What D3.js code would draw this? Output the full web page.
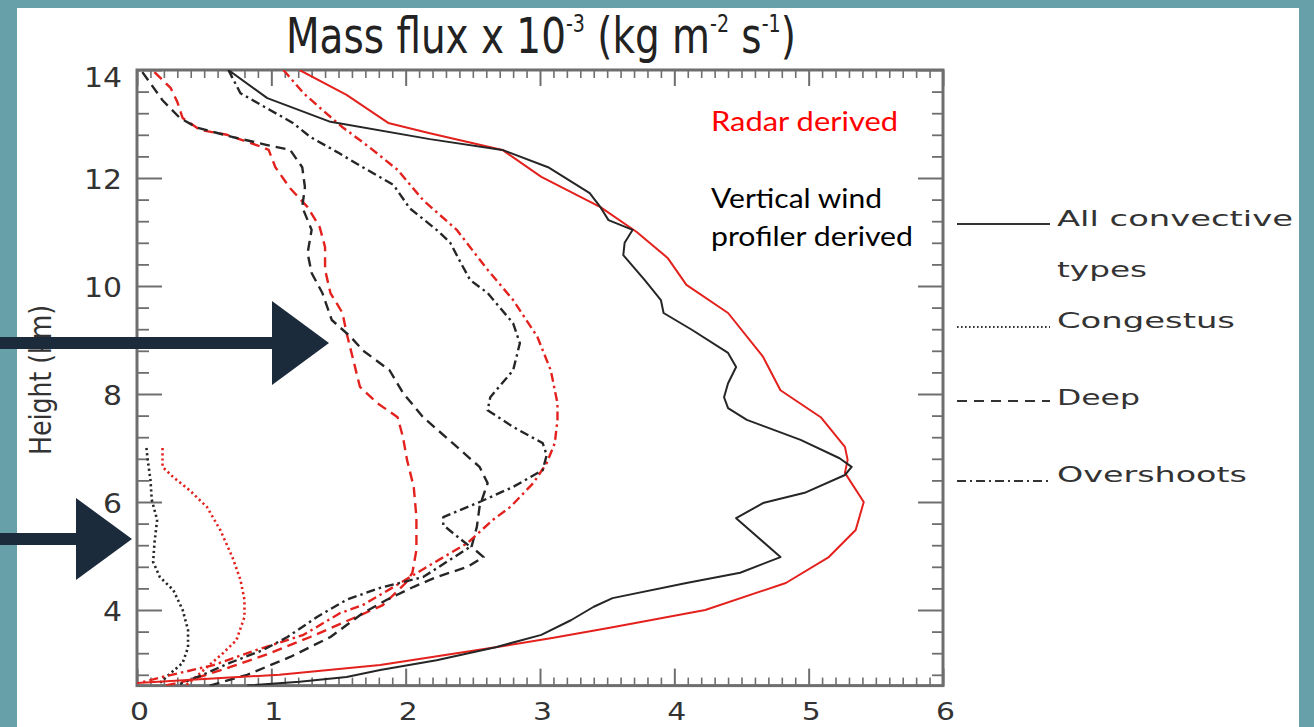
<!DOCTYPE html>
<html><head><meta charset="utf-8">
<script src="https://cdn.jsdelivr.net/npm/d3@7"></script>
<style>
html,body{margin:0;padding:0;background:#68a0a9;overflow:hidden;}
svg{display:block;}
</style></head><body>
<svg id="c" width="1314" height="727"></svg>
<script>
// ---------- data: [mass flux (x10^-3 kg m^-2 s^-1), height (km)] ----------
const xTickLabels = ["0","1","2","3","4","5","6"];
const xTickValues = [0,1,2,3,4,5,6];
const yTickLabels = ["4","6","8","10","12","14"];
const yTickValues = [4,6,8,10,12,14];
const legendLabels = ["All convective", "types", "Congestus", "Deep", "Overshoots"];

// Vertical wind profiler derived (black)
const vwpAll = [[0.68,14.0],[0.97,13.48],[1.44,13.04],[2.18,12.72],[2.72,12.52],[3.06,12.2],[3.37,11.72],[3.45,11.46],[3.51,11.22],[3.69,11.04],[3.63,10.8],[3.62,10.57],[3.78,10.11],[3.90,9.74],[3.92,9.5],[4.13,9.19],[4.40,8.76],[4.46,8.5],[4.40,8.2],[4.37,7.94],[4.40,7.74],[4.54,7.52],[4.94,7.15],[5.23,6.81],[5.32,6.65],[5.27,6.5],[4.97,6.17],[4.66,5.98],[4.46,5.70],[4.79,4.98],[4.49,4.69],[4.09,4.5],[3.54,4.22],[3.40,4.06],[3.23,3.81],[3.01,3.54],[2.67,3.31],[2.23,3.07],[1.81,2.89],[1.56,2.76],[1.21,2.67],[0.82,2.6]];
const vwpCong = [[0.07,7.0],[0.08,6.78],[0.10,6.41],[0.11,6.04],[0.15,5.67],[0.13,5.24],[0.12,4.89],[0.17,4.61],[0.27,4.37],[0.34,4.0],[0.38,3.63],[0.38,3.31],[0.34,3.02],[0.25,2.83],[0.17,2.65]];
const vwpDeep = [[0.04,13.96],[0.19,13.44],[0.32,13.11],[0.45,12.93],[0.71,12.76],[0.97,12.61],[1.14,12.52],[1.23,12.2],[1.25,11.83],[1.23,11.46],[1.30,11.04],[1.27,10.61],[1.30,10.24],[1.38,9.87],[1.45,9.37],[1.59,9.06],[1.68,8.81],[1.88,8.44],[1.98,8.02],[2.13,7.57],[2.35,7.09],[2.55,6.65],[2.61,6.35],[2.55,5.91],[2.53,5.54],[2.49,5.17],[2.58,4.98],[2.46,4.8],[2.23,4.61],[2.06,4.43],[1.86,4.19],[1.68,3.94],[1.44,3.5],[1.14,3.13],[0.82,2.8],[0.54,2.6]];
const vwpOver = [[0.68,14.0],[0.77,13.57],[0.99,13.26],[1.16,13.02],[1.29,12.76],[1.49,12.48],[1.68,12.2],[1.91,11.87],[2.03,11.44],[2.23,11.04],[2.33,10.81],[2.41,10.43],[2.48,10.11],[2.61,9.87],[2.80,9.31],[2.85,8.94],[2.80,8.44],[2.63,7.94],[2.61,7.7],[2.80,7.39],[3.02,7.09],[3.05,6.87],[3.02,6.59],[2.80,6.28],[2.55,6.0],[2.28,5.72],[2.28,5.57],[2.48,5.17],[2.13,4.61],[1.81,4.41],[1.56,4.19],[1.34,3.87],[1.12,3.5],[0.94,3.26],[0.69,3.02],[0.47,2.78],[0.32,2.63]];

// Radar derived (red)
const radarAll = [[1.21,14.0],[1.56,13.54],[1.87,13.02],[2.18,12.83],[2.72,12.52],[3.01,12.02],[3.45,11.46],[3.72,11.0],[3.95,10.52],[4.09,10.02],[4.40,9.5],[4.66,8.69],[4.79,8.07],[5.09,7.57],[5.27,7.02],[5.29,6.78],[5.27,6.54],[5.41,6.0],[5.35,5.48],[5.15,4.98],[4.83,4.5],[4.23,4.0],[3.52,3.67],[3.09,3.48],[2.67,3.31],[1.81,2.98],[1.06,2.8],[0.69,2.75],[0.0,2.65]];
const radarCong = [[0.19,7.0],[0.19,6.65],[0.27,6.46],[0.39,6.22],[0.52,5.91],[0.62,5.48],[0.71,4.98],[0.77,4.56],[0.80,4.19],[0.80,3.87],[0.74,3.44],[0.64,3.2],[0.52,2.94],[0.41,2.7],[0.36,2.6]];
const radarDeep = [[0.13,13.96],[0.25,13.67],[0.30,13.41],[0.34,13.11],[0.47,12.89],[0.67,12.8],[0.89,12.61],[0.98,12.52],[1.03,12.2],[1.14,11.81],[1.27,11.46],[1.36,11.09],[1.40,10.72],[1.40,10.3],[1.44,9.87],[1.53,9.5],[1.56,9.13],[1.61,8.63],[1.66,8.13],[1.79,7.83],[1.94,7.57],[1.98,7.2],[2.01,6.78],[2.06,6.28],[2.08,5.72],[2.08,5.11],[2.05,4.69],[2.0,4.5],[1.83,4.09],[1.53,3.76],[1.29,3.5],[0.99,3.2],[0.69,2.94],[0.39,2.7],[0.21,2.6]];
const radarOver = [[1.09,14.0],[1.24,13.57],[1.38,13.26],[1.53,12.94],[1.73,12.57],[1.94,12.15],[2.13,11.59],[2.38,11.04],[2.61,10.3],[2.80,9.74],[2.98,9.06],[3.08,8.44],[3.13,7.83],[3.13,7.52],[3.11,7.09],[3.05,6.72],[2.95,6.35],[2.78,5.91],[2.65,5.67],[2.46,5.24],[2.16,4.8],[1.96,4.5],[1.68,4.09],[1.51,3.94],[1.24,3.54],[0.89,3.26],[0.57,2.98],[0.19,2.76],[0.02,2.65]];

// ---------- drawing ----------
const svg = d3.select("#c");
const BLACK = "#262626", RED = "#e3211d", AX = "#6e6e6e";
svg.append("rect").attr("x",17).attr("y",8).attr("width",1282).attr("height",719).attr("fill","#ffffff");

const x = d3.scaleLinear().domain([0,6]).range([137,943]);
const y = d3.scaleLinear().domain([2.6,14]).range([685.6,70]);
const [x0,x1] = x.range(), [y0,y1] = y.range();

const xMinor = d3.range(1,60).map(i=>i/10).filter(v=>Math.abs(v-Math.round(v))>1e-6);
const yMinor = d3.range(7,35).map(i=>i*0.4).filter(v=>v<14 && Math.abs(v/2-Math.round(v/2))>1e-6);

function clean(g){ g.select(".domain").remove(); g.selectAll("line").attr("stroke",AX); return g; }
function axis(gen, tr, w){ return svg.append("g").attr("transform",tr).call(gen).call(clean).call(g=>g.selectAll("line").attr("stroke-width",w)); }

// minor ticks
axis(d3.axisBottom(x).tickValues(xMinor).tickSize(-8).tickFormat(""), `translate(0,${y0})`, 1.6);
axis(d3.axisTop(x).tickValues(xMinor).tickSize(-8).tickFormat(""), `translate(0,${y1})`, 1.6);
axis(d3.axisLeft(y).tickValues(yMinor).tickSize(-12).tickFormat(""), `translate(${x0},0)`, 1.8);
axis(d3.axisRight(y).tickValues(yMinor).tickSize(-11).tickFormat(""), `translate(${x1},0)`, 1.8);
// major ticks
const gb = axis(d3.axisBottom(x).tickValues(xTickValues).tickSize(-17).tickFormat((d,i)=>xTickLabels[i]), `translate(0,${y0})`, 2);
axis(d3.axisTop(x).tickValues(xTickValues).tickSize(-16).tickFormat(""), `translate(0,${y1})`, 2);
const gl = axis(d3.axisLeft(y).tickValues(yTickValues).tickSize(-25).tickFormat((d,i)=>yTickLabels[i]), `translate(${x0},0)`, 2);
axis(d3.axisRight(y).tickValues(yTickValues).tickSize(-25).tickFormat(""), `translate(${x1},0)`, 2);

const tickFont = "'DejaVu Sans', sans-serif";
gb.selectAll("text").attr("y", 720-y0).attr("dy",0).attr("x",2)
  .attr("font-family",tickFont).attr("font-size",24).attr("fill","#333")
  .attr("textLength",19).attr("lengthAdjust","spacingAndGlyphs");
gl.selectAll("text").attr("x",-15).attr("dy",(d)=> d===14 ? "0.62em" : "0.4em")
  .attr("font-family",tickFont).attr("font-size",27).attr("fill","#333")
  .attr("textLength",d=> String(d).length>1 ? 38 : 19).attr("lengthAdjust","spacingAndGlyphs");

// frame
svg.append("rect").attr("x",x0).attr("y",y1).attr("width",x1-x0).attr("height",y0-y1)
  .attr("fill","none").attr("stroke",AX).attr("stroke-width",3);

// clip
svg.append("clipPath").attr("id","pc").append("rect").attr("x",x0).attr("y",y1).attr("width",x1-x0).attr("height",y0-y1);
const plot = svg.append("g").attr("clip-path","url(#pc)");
const line = d3.line().x(d=>x(d[0])).y(d=>y(d[1]));

const STY = {solid:{dash:null,w:2}, dot:{dash:"2.2,3",w:2.6}, dash:{dash:"10,6",w:2.4}, dashdot:{dash:"9,4,2.5,4",w:2.4}};
const series = [
  {d:radarCong, c:RED, s:"dot"}, {d:vwpCong, c:BLACK, s:"dot"},
  {d:radarDeep, c:RED, s:"dash"}, {d:vwpDeep, c:BLACK, s:"dash"},
  {d:radarOver, c:RED, s:"dashdot"}, {d:vwpOver, c:BLACK, s:"dashdot"},
  {d:radarAll, c:RED, s:"solid"}, {d:vwpAll, c:BLACK, s:"solid"}
];
series.forEach(sr=>{
  plot.append("path").datum(sr.d).attr("d",line).attr("fill","none")
    .attr("stroke",sr.c).attr("stroke-width",STY[sr.s].w)
    .attr("stroke-dasharray",STY[sr.s].dash).attr("stroke-linejoin","round");
});

// legend
const legFont = "'DejaVu Sans', sans-serif";
const legItems = [
  {s:"solid", ly:224, t:[{txt:legendLabels[0],y:226,w:236},{txt:legendLabels[1],y:277,w:90}]},
  {s:"dot", ly:327, t:[{txt:legendLabels[2],y:328,w:178}]},
  {s:"dash", ly:401, t:[{txt:legendLabels[3],y:405,w:83}]},
  {s:"dashdot", ly:481, t:[{txt:legendLabels[4],y:482,w:190}]}
];
const legDash = {solid:null, dot:"1.6,2.4", dash:"10,7", dashdot:"9,4,2,4"};
legItems.forEach(it=>{
  svg.append("line").attr("x1",957).attr("x2",1050).attr("y1",it.ly).attr("y2",it.ly)
    .attr("stroke","#333").attr("stroke-width",2).attr("stroke-dasharray",legDash[it.s]);
  it.t.forEach(t=>{
    svg.append("text").attr("x",1057).attr("y",t.y).text(t.txt)
      .attr("font-family",legFont).attr("font-size",22).attr("fill","#333")
      .attr("textLength",t.w).attr("lengthAdjust","spacingAndGlyphs");
  });
});

// annotations
const annFont = "Lato, 'Open Sans', sans-serif";
svg.append("text").attr("x",711).attr("y",131).text("Radar derived").attr("fill","#ff0000")
  .attr("font-family",annFont).attr("font-size",27).attr("textLength",187).attr("lengthAdjust","spacingAndGlyphs");
svg.append("text").attr("x",711).attr("y",208).text("Vertical wind").attr("fill","#000")
  .attr("font-family",annFont).attr("font-size",27).attr("textLength",171).attr("lengthAdjust","spacingAndGlyphs");
svg.append("text").attr("x",711).attr("y",246).text("profiler derived").attr("fill","#000")
  .attr("font-family",annFont).attr("font-size",27).attr("textLength",202).attr("lengthAdjust","spacingAndGlyphs");

// title
const titleFont = "'Liberation Sans Narrow', 'DejaVu Sans Condensed', 'Liberation Sans', sans-serif";
const tg = svg.append("g");
const tt = tg.append("text").attr("x",0).attr("y",0).attr("font-family",titleFont).attr("font-size",49).attr("fill","#222");
const parts = [["Mass flux x 10",0],["-3",1],[" (kg m",0],["-2",1],[" s",0],["-1",1],[")",0]];
let up = false;
parts.forEach(([s,sup])=>{
  const ts = tt.append("tspan").text(s);
  if (sup){ ts.attr("font-size",24).attr("dy",-21); up=true; }
  else if (up){ ts.attr("dy",21); up=false; }
});
const tb = tt.node().getBBox();
tg.attr("transform",`translate(286,53) scale(${510/tb.width},1)`);

// y-axis label
svg.append("text").attr("transform","translate(51,380) rotate(-90)").attr("text-anchor","middle")
  .text("Height (km)").attr("font-family",titleFont).attr("font-size",30).attr("fill","#333")
  .attr("textLength",150).attr("lengthAdjust","spacingAndGlyphs");

// arrows (annotation overlays)
const NAVY = "#1c2b3c";
function arrow(y, shaftEnd, baseX, halfH, tipX){
  svg.append("path").attr("fill",NAVY)
    .attr("d",`M0,${y-6} L${shaftEnd},${y-6} L${shaftEnd},${y+6} L0,${y+6} Z M${baseX},${y-halfH} L${tipX},${y} L${baseX},${y+halfH} Z`);
}
arrow(343, 276, 272, 42, 329);
arrow(539, 78, 76, 41, 132);
</script>
</body></html>
